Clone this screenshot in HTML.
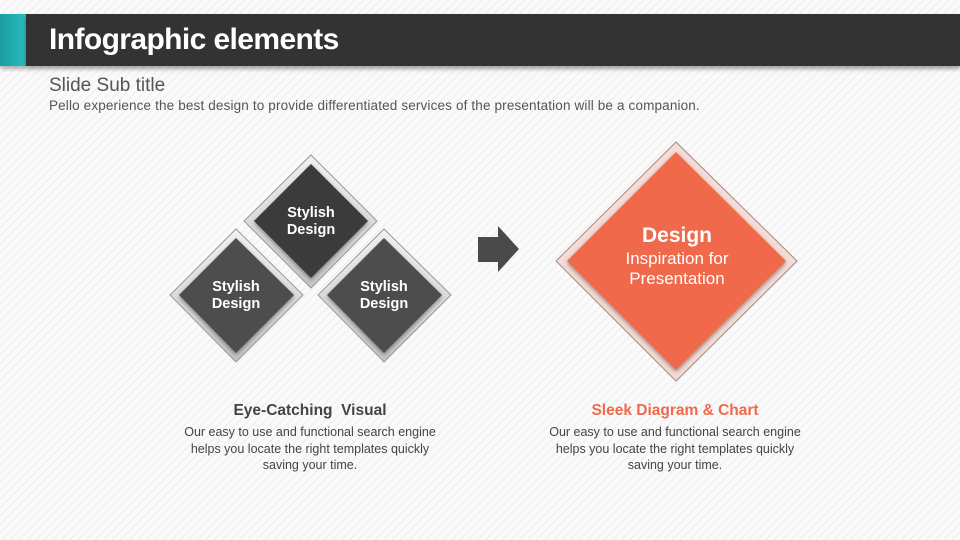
<!DOCTYPE html>
<html><head><meta charset="utf-8"><style>
html,body{margin:0;padding:0}
body{width:960px;height:540px;overflow:hidden;position:relative;font-family:"Liberation Sans",sans-serif;
background:repeating-linear-gradient(135deg,#fafafa 0px,#fafafa 4px,#ececec 5px,#fafafa 6px);}
.bar{position:absolute;left:26px;top:14px;width:934px;height:52px;background:#333;box-shadow:0 3px 4px rgba(0,0,0,.35)}
.teal{position:absolute;left:0;top:14px;width:26px;height:52px;background:linear-gradient(90deg,#1a9da0,#2bbcbf);box-shadow:0 3px 4px rgba(0,0,0,.3)}
.title{position:absolute;left:49px;top:20px;color:#fff;font-size:30px;font-weight:bold;line-height:40px;letter-spacing:-0.6px}
.sub{position:absolute;left:49px;top:75px;font-size:19px;color:#555;line-height:22px}
.desc{position:absolute;left:49px;top:98px;font-size:13.5px;color:#555;line-height:16px;letter-spacing:0.15px}
.cap{position:absolute;width:300px;text-align:center;font-size:12.5px;color:#444;line-height:16.5px}
.cap b{display:block;font-size:15.5px;margin-bottom:3px;line-height:20px}
</style></head><body>
<div class="teal"></div><div class="bar"></div>
<div class="title">Infographic elements</div>
<div class="sub">Slide Sub title</div>
<div class="desc">Pello experience the best design to provide differentiated services of the presentation will be a companion.</div>
<svg width="960" height="540" style="position:absolute;left:0;top:0" font-family="Liberation Sans, sans-serif">
<defs>
<filter id="sh" x="-20%" y="-20%" width="140%" height="140%"><feDropShadow dx="0" dy="2" stdDeviation="2" flood-opacity="0.4"/></filter>
<linearGradient id="fr" x1="0" y1="0" x2="0" y2="1"><stop offset="0" stop-color="#f2f2f2"/><stop offset="1" stop-color="#c4c4c4"/></linearGradient>
</defs>
<g>
<polygon points="311,155 377,221 311,288 244,221" fill="url(#fr)" stroke="#999" stroke-width="1"/>
<polygon points="311,164 368,221 311,278 254,221" fill="#3a3a3a" filter="url(#sh)"/>
<text x="311" y="217" text-anchor="middle" fill="#fff" font-size="14.5" font-weight="bold">Stylish</text>
<text x="311" y="234" text-anchor="middle" fill="#fff" font-size="14.5" font-weight="bold">Design</text>

<polygon points="236,229 303,295 236,362 170,295" fill="url(#fr)" stroke="#999" stroke-width="1"/>
<polygon points="236,238 294,295 236,353 179,295" fill="#4e4e4e" filter="url(#sh)"/>
<text x="236" y="291" text-anchor="middle" fill="#fff" font-size="14.5" font-weight="bold">Stylish</text>
<text x="236" y="308" text-anchor="middle" fill="#fff" font-size="14.5" font-weight="bold">Design</text>

<polygon points="384,229 451,295 384,362 318,295" fill="url(#fr)" stroke="#999" stroke-width="1"/>
<polygon points="384,238 442,295 384,353 327,295" fill="#4e4e4e" filter="url(#sh)"/>
<text x="384" y="291" text-anchor="middle" fill="#fff" font-size="14.5" font-weight="bold">Stylish</text>
<text x="384" y="308" text-anchor="middle" fill="#fff" font-size="14.5" font-weight="bold">Design</text>
</g>
<polygon points="478,237 498,237 498,226 519,249 498,272 498,262 478,262" fill="#4a4a4a"/>
<polygon points="676,142 797,261 676,381 556,261" fill="#f5dcd6" stroke="#a08a85" stroke-width="1"/>
<polygon points="676,152 786,261 676,370 567,261" fill="#f0694c" filter="url(#sh)"/>
<text x="677" y="242" text-anchor="middle" fill="#fff" font-size="21" font-weight="bold">Design</text>
<text x="677" y="264" text-anchor="middle" fill="#fff" font-size="17">Inspiration for</text>
<text x="677" y="284" text-anchor="middle" fill="#fff" font-size="17">Presentation</text>
</svg>
<div class="cap" style="left:160px;top:401px"><b style="color:#444">Eye-Catching&nbsp; Visual</b>Our easy to use and functional search engine<br>helps you locate the right templates quickly<br>saving your time.</div>
<div class="cap" style="left:525px;top:401px"><b style="color:#f0694c">Sleek Diagram &amp; Chart</b>Our easy to use and functional search engine<br>helps you locate the right templates quickly<br>saving your time.</div>
</body></html>
